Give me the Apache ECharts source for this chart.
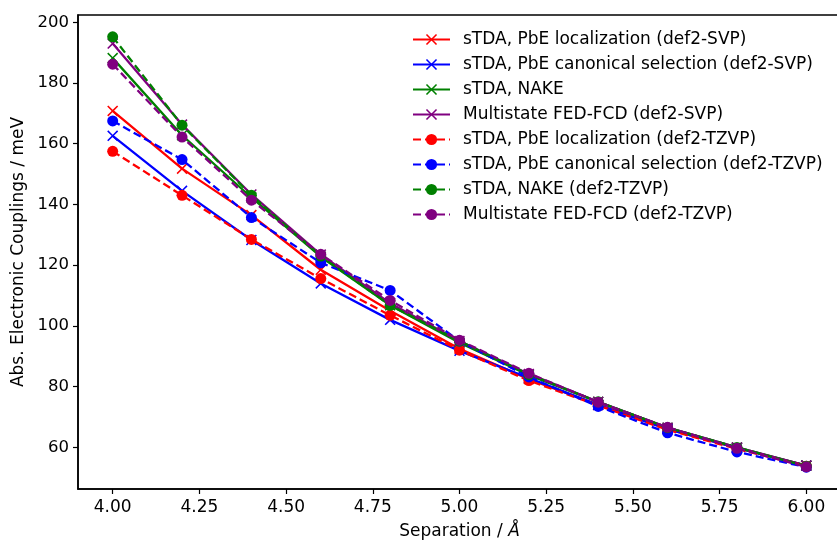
<!DOCTYPE html>
<html>
<head>
<meta charset="utf-8">
<script src="https://cdn.jsdelivr.net/npm/echarts@6/dist/echarts.min.js"></script>
<style>
  html, body { margin: 0; padding: 0; background: #fff; }
  #chart { width: 837px; height: 544px; }
</style>
</head>
<body>
<div id="chart"></div>
<script>
// separations (Angstrom)
var separations = [4.0, 4.2, 4.4, 4.6, 4.8, 5.0, 5.2, 5.4, 5.6, 5.8, 6.0];

// couplings in meV
var pbeLocSVP  = [170.8, 151.8, 136.5, 118.5, 105.0, 92.5, 82.5, 74.0, 66.0, 59.8, 54.0];
var pbeCanSVP  = [162.6, 144.5, 128.3, 114.0, 102.0, 91.8, 82.8, 74.0, 66.0, 59.8, 54.0];
var nakeSVP    = [188.2, 162.8, 142.3, 122.8, 106.8, 94.5, 83.8, 75.0, 66.5, 60.0, 54.0];
var fedSVP     = [193.0, 166.3, 143.3, 123.5, 107.5, 95.0, 84.2, 75.0, 66.5, 60.0, 54.0];
var pbeLocTZVP = [157.5, 143.0, 128.5, 115.6, 103.5, 92.0, 82.0, 73.8, 65.8, 59.5, 53.8];
var pbeCanTZVP = [167.5, 154.8, 135.7, 120.8, 111.7, 95.0, 83.2, 73.5, 64.8, 58.5, 53.5];
var nakeTZVP   = [195.2, 166.1, 143.0, 123.0, 106.8, 95.0, 84.0, 75.0, 66.5, 60.0, 53.8];
var fedTZVP    = [186.2, 162.2, 141.4, 123.6, 108.4, 95.3, 84.4, 74.9, 66.6, 59.7, 53.6];

var seriesNames = [
    'sTDA, PbE localization (def2-SVP)',
    'sTDA, PbE canonical selection (def2-SVP)',
    'sTDA, NAKE',
    'Multistate FED-FCD (def2-SVP)',
    'sTDA, PbE localization (def2-TZVP)',
    'sTDA, PbE canonical selection (def2-TZVP)',
    'sTDA, NAKE (def2-TZVP)',
    'Multistate FED-FCD (def2-TZVP)'
];
var seriesValues = [pbeLocSVP, pbeCanSVP, nakeSVP, fedSVP, pbeLocTZVP, pbeCanTZVP, nakeTZVP, fedTZVP];
var seriesColors = ['#ff0000', '#0000ff', '#008000', '#800080', '#ff0000', '#0000ff', '#008000', '#800080'];

// tick labels
var xTicks = [4.00, 4.25, 4.50, 4.75, 5.00, 5.25, 5.50, 5.75, 6.00];
var yTicks = [60, 80, 100, 120, 140, 160, 180, 200];

// matplotlib-like "x" marker
var crossPath = 'path://M0,1L1,0L5,4L9,0L10,1L6,5L10,9L9,10L5,6L1,10L0,9L4,5Z';

var chart = echarts.init(document.getElementById('chart'));

var series = seriesValues.map(function (vals, i) {
    var dashed = i >= 4;
    return {
        name: seriesNames[i],
        type: 'line',
        data: separations.map(function (x, j) { return [x, vals[j]]; }),
        symbol: dashed ? 'circle' : crossPath,
        symbolSize: 11,
        showAllSymbol: true,
        itemStyle: { color: seriesColors[i] },
        lineStyle: {
            color: seriesColors[i],
            width: 2.3,
            type: dashed ? [8, 4] : 'solid'
        },
        emphasis: { disabled: true },
        animation: false,
        z: 2 + i
    };
});

var option = {
    backgroundColor: '#fff',
    textStyle: { fontFamily: 'DejaVu Sans' },
    grid: {
        left: 78, top: 15, right: -4, bottom: 55,
        containLabel: false,
        outerBoundsMode: 'none',
        show: true,
        borderColor: '#000',
        borderWidth: 1.5,
        backgroundColor: 'transparent'
    },
    legend: {
        orient: 'vertical',
        left: 407,
        top: 26,
        itemWidth: 37,
        itemHeight: 14,
        itemGap: 8,
        textStyle: {
            fontFamily: 'DejaVu Sans',
            fontSize: 17,
            lineHeight: 17,
            color: '#000',
            padding: [0, 0, 0, 8]
        },
        data: seriesNames
    },
    xAxis: {
        type: 'value',
        min: 3.9,
        max: 6.1,
        name: 'Separation / {i|Å}',
        nameLocation: 'middle',
        nameGap: 34,
        nameTextStyle: {
            fontFamily: 'DejaVu Sans', fontSize: 17, color: '#000',
            rich: { i: { fontFamily: 'DejaVu Sans', fontSize: 17, fontStyle: 'italic', color: '#000' } }
        },
        axisLine: { show: true, onZero: false, lineStyle: { color: '#000', width: 1.5 } },
        axisTick: { show: true, inside: false, length: 5, lineStyle: { color: '#000', width: 1.2 }, customValues: xTicks },
        axisLabel: {
            fontFamily: 'DejaVu Sans', fontSize: 17, color: '#000', margin: 10,
            customValues: xTicks,
            formatter: function (v) { return v.toFixed(2); }
        },
        splitLine: { show: false }
    },
    yAxis: {
        type: 'value',
        min: 46.3,
        max: 202.4,
        name: 'Abs. Electronic Couplings / meV',
        nameLocation: 'middle',
        nameGap: 47,
        nameTextStyle: { fontFamily: 'DejaVu Sans', fontSize: 17, color: '#000' },
        axisLine: { show: true, onZero: false, lineStyle: { color: '#000', width: 1.5 } },
        axisTick: { show: true, inside: false, length: 5, lineStyle: { color: '#000', width: 1.2 }, customValues: yTicks },
        axisLabel: {
            fontFamily: 'DejaVu Sans', fontSize: 16.5, color: '#000', margin: 9,
            customValues: yTicks
        },
        splitLine: { show: false }
    },
    series: series
};

chart.setOption(option);
</script>
</body>
</html>
